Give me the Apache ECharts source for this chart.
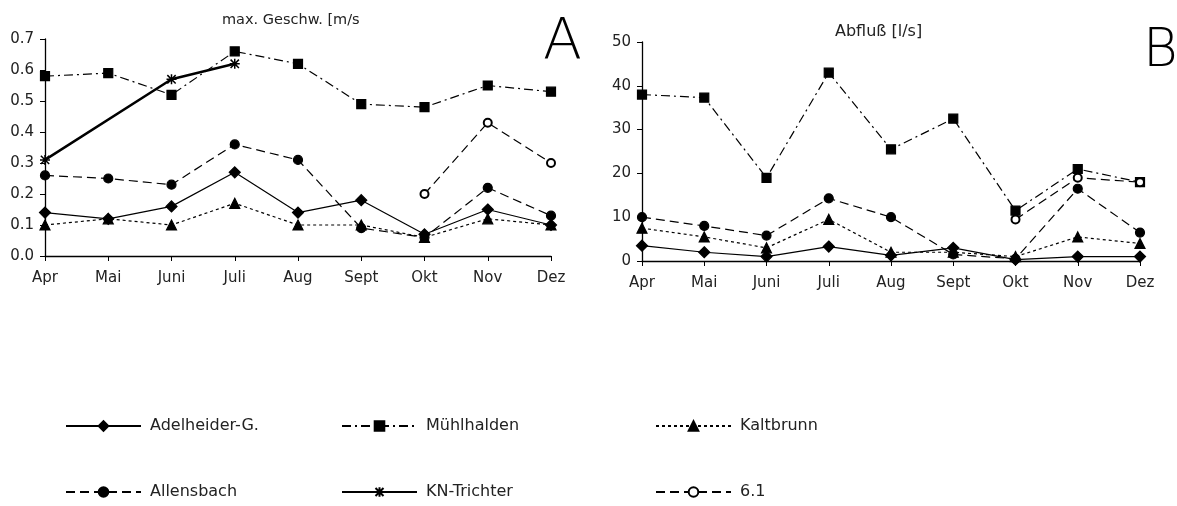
<!DOCTYPE html>
<html>
<head>
<meta charset="utf-8">
<script src="https://cdn.jsdelivr.net/npm/echarts@6/dist/echarts.min.js"></script>
<style>
  html, body { margin: 0; padding: 0; background: #fff; }
  #chart { width: 1177px; height: 506px; }
</style>
</head>
<body>
<div id="chart"></div>
<script>
// Monate
var months = ["Apr", "Mai", "Juni", "Juli", "Aug", "Sept", "Okt", "Nov", "Dez"];

// A: max. Geschwindigkeit [m/s]
var adelheiderA = [0.14, 0.12, 0.16, 0.27, 0.14, 0.18, 0.07, 0.15, 0.10];
var muehlhaldenA = [0.58, 0.59, 0.52, 0.66, 0.62, 0.49, 0.48, 0.55, 0.53];
var kaltbrunnA = [0.10, 0.12, 0.10, 0.17, 0.10, 0.10, 0.06, 0.12, 0.10];
var allensbachA = [0.26, 0.25, 0.23, 0.36, 0.31, 0.09, 0.06, 0.22, 0.13];
var knTrichterA = [0.31, null, 0.57, 0.62, null, null, null, null, null];
var s61A = [null, null, null, null, null, null, 0.20, 0.43, 0.30];

// B: Abfluss [l/s]
var adelheiderB = [3.5, 2, 1, 3.3, 1.3, 3, 0.3, 1, 1];
var muehlhaldenB = [38, 37.3, 19, 43, 25.5, 32.5, 11.5, 21, 18];
var kaltbrunnB = [7.5, 5.5, 3, 9.5, 2, 2, 1, 5.5, 4];
var allensbachB = [10, 8, 5.8, 14.3, 10, 1.5, 0.5, 16.5, 6.5];
var s61B = [null, null, null, null, null, null, 9.5, 19, 18];

var font = "DejaVu Sans";
var black = "#000";
var txt = "#222";

var styles = {
  "Adelheider-G.": { symbol: "diamond", size: 11, line: { width: 1.2, type: "solid" } },
  "Mühlhalden": { symbol: "rect", size: 9, line: { width: 1.2, type: [9, 4, 2, 4] } },
  "Kaltbrunn": { symbol: "triangle", size: 10, line: { width: 1.2, type: [3, 3] } },
  "Allensbach": { symbol: "circle", size: 9, line: { width: 1.2, type: [9, 5] } },
  "KN-Trichter": { symbol: "path://M-1,-1L1,1M1,-1L-1,1M0,-1.2L0,1.2M-1.2,0L1.2,0", size: 10, line: { width: 2.5, type: "solid" } },
  "6.1": { symbol: "emptyCircle", size: 8, line: { width: 1.2, type: [9, 5] } }
};

function mk(name, data, idx) {
  var st = styles[name];
  return {
    name: name,
    type: "line",
    xAxisIndex: idx,
    yAxisIndex: idx,
    data: data,
    connectNulls: true,
    symbol: st.symbol,
    symbolSize: st.size,
    showAllSymbol: true,
    animation: false,
    lineStyle: { color: black, width: st.line.width, type: st.line.type },
    itemStyle: name === "KN-Trichter"
      ? { color: black, borderColor: black, borderWidth: 1.5 }
      : { color: black, borderColor: black, borderWidth: 1.2 }
  };
}

function xAx(idx) {
  return {
    type: "category",
    gridIndex: idx,
    data: months,
    boundaryGap: false,
    axisLine: { lineStyle: { color: black, width: 1.3 } },
    axisTick: { alignWithLabel: true, length: 5, lineStyle: { color: black } },
    axisLabel: { color: txt, fontFamily: font, fontSize: 15, margin: 15 }
  };
}

function yAx(idx, max, interval, digits) {
  return {
    type: "value",
    gridIndex: idx,
    min: 0,
    max: max,
    interval: interval,
    splitLine: { show: false },
    axisLine: { show: true, lineStyle: { color: black, width: 1.3 } },
    axisTick: { show: true, length: 5, lineStyle: { color: black } },
    axisLabel: {
      color: txt, fontFamily: font, fontSize: 15, margin: 11,
      formatter: function (v) { return v.toFixed(digits); }
    }
  };
}

function leg(name, left, top) {
  return {
    data: [{ name: name }],
    left: left,
    top: top,
    itemWidth: 75,
    itemHeight: 12,
    itemGap: 0,
    selectedMode: false,
    textStyle: { color: txt, fontFamily: font, fontSize: 16, padding: [0, 0, 0, 4] }
  };
}

var myChart = echarts.init(document.getElementById("chart"));
var option = {
  backgroundColor: "#fff",
  title: [
    { text: "max. Geschw. [m/s", left: 222, top: 13, padding: 0, textStyle: { fontFamily: font, fontSize: 14.5, fontWeight: "normal", color: txt } },
    { text: "A", left: 543, top: 16, padding: 0, textStyle: { fontFamily: font, fontSize: 57, fontWeight: "lighter", color: black } },
    { text: "Abfluß [l/s]", left: 835, top: 24, padding: 0, textStyle: { fontFamily: font, fontSize: 16, fontWeight: "normal", color: txt } },
    { text: "B", left: 1143, top: 26, padding: 0, textStyle: { fontFamily: font, fontSize: 53, fontWeight: "lighter", color: black } }
  ],
  legend: [
    leg("Adelheider-G.", 60, 413),
    leg("Mühlhalden", 336, 413),
    leg("Kaltbrunn", 650, 413),
    leg("Allensbach", 60, 479),
    leg("KN-Trichter", 336, 479),
    leg("6.1", 650, 479)
  ],
  grid: [
    { left: 45, top: 39, width: 506, height: 217 },
    { left: 642, top: 42, width: 498, height: 219 }
  ],
  xAxis: [xAx(0), xAx(1)],
  yAxis: [yAx(0, 0.7, 0.1, 1), yAx(1, 50, 10, 0)],
  series: [
    mk("Adelheider-G.", adelheiderA, 0),
    mk("Mühlhalden", muehlhaldenA, 0),
    mk("Kaltbrunn", kaltbrunnA, 0),
    mk("Allensbach", allensbachA, 0),
    mk("KN-Trichter", knTrichterA, 0),
    mk("6.1", s61A, 0),
    mk("Adelheider-G.", adelheiderB, 1),
    mk("Mühlhalden", muehlhaldenB, 1),
    mk("Kaltbrunn", kaltbrunnB, 1),
    mk("Allensbach", allensbachB, 1),
    mk("6.1", s61B, 1)
  ]
};
myChart.setOption(option);
</script>
</body>
</html>
